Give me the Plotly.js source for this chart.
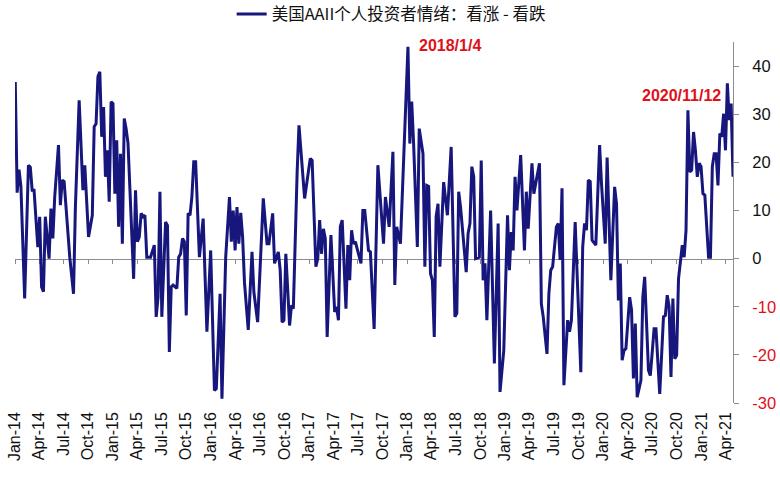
<!DOCTYPE html>
<html><head><meta charset="utf-8">
<script src="https://cdn.plot.ly/plotly-3.0.1.min.js"></script>
<style>html,body{margin:0;padding:0;background:#fff}#chart{width:780px;height:477px}</style>
</head><body><div id="chart"></div>
<script>
// Weekly AAII bull-bear spread, week index counted from 2014-01-02 (Thursday releases)
const startDateUTC = Date.UTC(2014, 0, 2);
const seriesName = '美国AAII个人投资者情绪：看涨 - 看跌';
const weeks = [0,1,2,3,5,7,8,9,10,12,13,14,15,16,18,19,20,21,23,24,25,26,29,31,32,34,36,37,39,41,42,43,44,45,46,47,48,49,50,51,52,53,54,55,56,57,58,59,60,63,64,65,66,67,68,69,70,72,74,75,76,77,78,80,81,82,83,84,86,87,88,89,90,91,92,93,94,95,96,98,100,102,104,106,107,109,110,112,114,115,116,117,118,119,120,121,122,124,126,127,129,132,134,135,137,138,140,141,142,143,144,146,147,148,150,151,154,157,158,160,161,162,163,164,165,166,168,170,171,172,173,174,176,177,178,179,180,181,184,185,186,188,189,191,193,196,197,199,201,202,203,205,209,210,211,212,214,215,217,218,219,220,221,222,223,224,225,226,228,230,232,234,235,236,237,240,241,242,243,244,245,247,248,249,250,251,253,255,257,258,260,262,263,264,265,266,267,269,271,272,273,275,276,279,280,281,283,284,285,286,288,289,290,291,292,294,295,296,298,301,302,303,304,305,306,307,309,311,312,314,315,317,319,320,321,322,323,324,325,327,328,329,330,331,333,334,335,337,338,340,341,343,345,346,347,348,349,350,351,352,353,354,355,356,357,358,359,360,361,362,363,364,365,366,367,369,370,371,372,373,374,375,376,377,378,379,380,381,382];
const spread = [36.7,13.7,18.5,15,-8.3,19.4,19,14.2,14.2,2.4,8.7,-5.9,-6.9,8.7,0,10.4,4.2,12.8,23.6,11.1,16.3,16,0.3,-7.3,10.7,32.9,14.2,19.4,4.5,9,27.4,28,37.8,38.8,25.3,31.5,17,22.5,11.8,32.6,32.2,13.5,24.6,6.6,21.8,3.1,29.1,27,24,-4.2,14.2,3.5,4.5,9.4,8.7,9,0.3,0.3,2.8,-12.1,-8,13.9,-12.1,7.6,6.9,-19.4,-5.9,-5.5,-6.2,0.3,1,4.2,3.5,-11.8,9.4,9,12.8,20.1,20.1,0.3,8.3,-15.2,1.7,-27.4,-27,-7.3,-29.1,0.3,12.8,3.5,10,1.7,10.7,3.1,9.5,4.5,-5,-14.8,1.4,-7,-13.2,12.5,3.1,3.1,9.4,-1,1.4,-2.4,-13.2,-12.8,1,-13.9,-9.7,-10.4,17.7,27.7,12.5,20.8,20.4,-1.7,0,8,1,6.2,4.2,-16.3,4.9,-11.1,-10,-12.8,6.6,8,-10.4,2.8,-4.5,5.9,3.1,3.5,-1,10,10,1.7,1.4,-14.6,19.4,3.1,12.8,6.6,22.2,-5.5,6.6,3.1,44,23.9,32.6,24,2.4,27,21.8,-1.7,15.2,15,-3.1,-4.5,-16.3,8.7,11.4,-1.7,15.9,9,23.2,-12.1,-11.4,13.9,10.7,-2.8,5.2,7.3,19.1,17,0,0.3,20.4,-4.5,-1,-12.8,10,-21.8,7.3,-27.7,-19.1,9,-2.4,5.5,1.7,17,10,21.5,1.7,13.9,6.2,19.8,13.5,19.8,-9.4,-12.1,-19.8,-7.3,-2.4,-1.7,6.6,7.3,-0.3,14.6,-26.3,-12.8,-15.2,-12.8,7.6,-23.6,2.4,7.3,5.9,16.3,16,3.8,2.8,23.6,15.6,3.1,21,-4.5,14.9,11.4,-8.7,-1,-21.1,-19.1,-18.7,-8,-10.7,-24.9,-13.5,-28.8,-25.3,-8,-3.8,-23.2,-24.3,-14.6,-14.6,-28.1,-12.1,-11.8,-7.6,-10,-24.6,-8.3,-20.8,-20.1,-4.2,0,2.8,0.3,5.9,30.8,18,18.4,26.3,22.5,17,19.8,19.1,13.5,13.2,0.3,0.3,19.1,21.8,21.8,15.2,26,25.3,30.1,22.5,36.4,28.8,32.2,17];
const yTickVals = [-30,-20,-10,0,10,20,30,40];
const noteWeeks = [209, 358];
const noteLabels = ['2018/1/4', '2020/11/12'];

const toDate = w => new Date(startDateUTC + w * 7 * 864e5).toISOString().slice(0, 10);
const dates = weeks.map(toDate);
const xRange = ['2014-01-01', dates[dates.length - 1]];
const noteDates = noteWeeks.map(toDate);
const noteValues = noteWeeks.map(w => spread[weeks.indexOf(w)]);

const FONT = 'Arial, "Liberation Sans", sans-serif';
const RED = '#e0101a';

const trace = {
  type: 'scatter', mode: 'lines', name: seriesName,
  x: dates, y: spread, xaxis: 'x', yaxis: 'y',
  line: {color: '#16167d', width: 3}
};

const layout = {
  width: 780, height: 477,
  margin: {l: 15, r: 47, t: 42, b: 74},
  paper_bgcolor: '#fff', plot_bgcolor: '#fff',
  showlegend: true,
  legend: {orientation: 'h', xref: 'container', yref: 'container', x: 0.297, xanchor: 'left',
    y: 0.97, yanchor: 'middle',
    font: {family: '"Noto Sans CJK SC", sans-serif', size: 16.5, color: '#111'}, bgcolor: 'rgba(0,0,0,0)'},
  xaxis: {type: 'date', range: xRange, dtick: 'M3', tick0: '2014-01-01', tickformat: '%b-%y',
    tickangle: -90, showgrid: false, zeroline: false, showline: false, ticks: '',
    ticklabelstandoff: 5, tickfont: {family: FONT, size: 16, color: '#111'}},
  xaxis2: {type: 'date', range: xRange, matches: 'x', overlaying: 'x', anchor: 'free', position: 0.4,
    dtick: 'M3', tick0: '2014-01-01', showticklabels: false, showgrid: false, zeroline: false,
    showline: true, linecolor: '#8c8c8c', linewidth: 1, ticks: 'outside', ticklen: 4,
    tickcolor: '#8c8c8c', layer: 'below traces'},
  yaxis: {range: [-30, 45], side: 'right', tickvals: yTickVals,
    ticktext: yTickVals.map(v => v < 0 ? '<span style="color:' + RED + '">' + v + '</span>' : String(v)),
    showgrid: false, zeroline: false, showline: true, linecolor: '#8c8c8c', linewidth: 1,
    ticks: 'outside', ticklen: 5, tickcolor: '#8c8c8c', ticklabelstandoff: 10,
    tickfont: {family: FONT, size: 16.5, color: '#111'}},
  annotations: [
    {x: noteDates[0], y: noteValues[0], xref: 'x', yref: 'y', text: '<b>' + noteLabels[0] + '</b>',
      showarrow: false, xanchor: 'left', yanchor: 'middle', xshift: 9, yshift: 1,
      font: {family: FONT, size: 16, color: RED}},
    {x: noteDates[1], y: noteValues[1], xref: 'x', yref: 'y', text: '<b>' + noteLabels[1] + '</b>',
      showarrow: false, xanchor: 'center', yanchor: 'middle', xshift: -6, yshift: 15,
      font: {family: FONT, size: 16, color: RED}}
  ]
};

const dummy = {type: 'scatter', mode: 'lines', x: xRange, y: [null, null], xaxis: 'x2', yaxis: 'y',
  showlegend: false, hoverinfo: 'skip'};

Plotly.newPlot('chart', [dummy, trace], layout, {staticPlot: true, displayModeBar: false});
</script></body></html>
